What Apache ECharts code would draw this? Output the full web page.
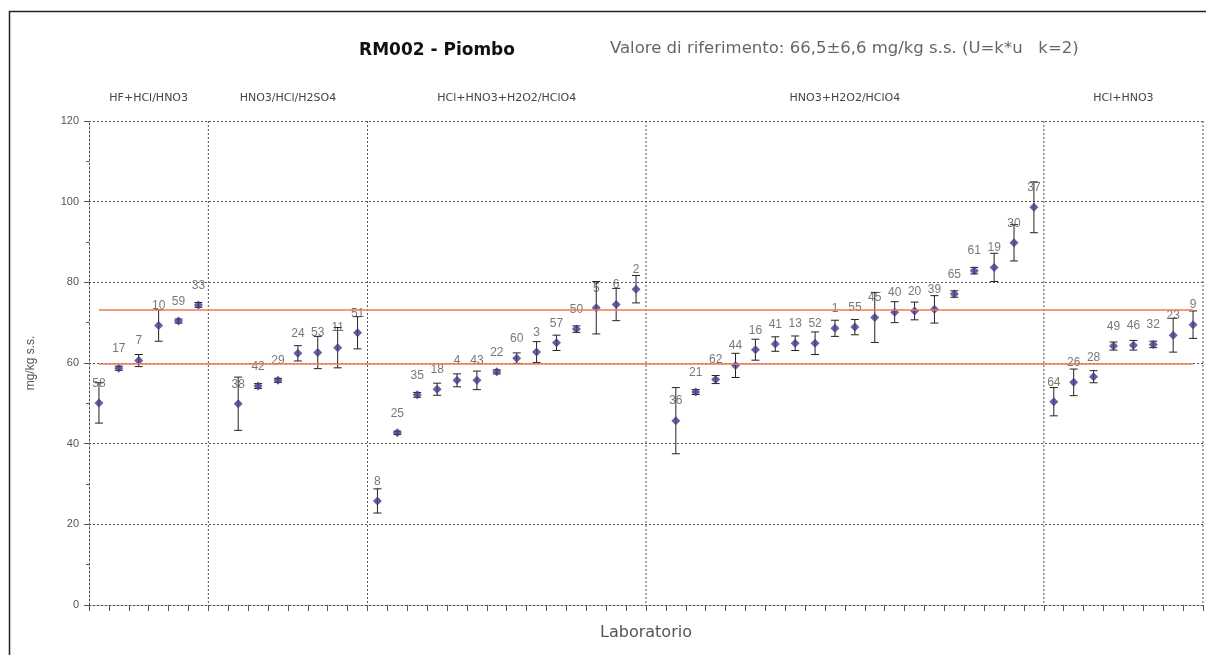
<!DOCTYPE html>
<html>
<head>
<meta charset="utf-8">
<script src="https://cdn.jsdelivr.net/npm/echarts@6/dist/echarts.min.js"></script>
<style>
  html, body { margin: 0; padding: 0; background: #fff; }
  #chart { width: 1206px; height: 655px; }
</style>
</head>
<body>
<div id="chart"></div>
<script>
// Digestion method groups and how many laboratory slots each occupies
const groupNames = ['HF+HCl/HNO3', 'HNO3/HCl/H2SO4', 'HCl+HNO3+H2O2/HClO4', 'HNO3+H2O2/HClO4', 'HCl+HNO3'];
const groupSizes = [6, 8, 14, 20, 8];

// Laboratory codes (empty = slot without a result)
const labs = [
  '58', '17', '7', '10', '59', '33',
  '', '38', '42', '29', '24', '53', '11', '51',
  '8', '25', '35', '18', '4', '43', '22', '60', '3', '57', '50', '5', '6', '2',
  '', '36', '21', '62', '44', '16', '41', '13', '52', '1', '55', '45', '40', '20', '39', '65', '61', '19', '30', '37',
  '64', '26', '28', '49', '46', '32', '23', '9'
];

// Reported lead results, mg/kg s.s.
const values = [
  50.1, 58.7, 60.6, 69.3, 70.4, 74.4,
  null, 49.9, 54.3, 55.7, 62.4, 62.6, 63.8, 67.5,
  25.8, 42.7, 52.1, 53.5, 55.7, 55.7, 57.8, 61.2, 62.7, 65.0, 68.4, 73.7, 74.5, 78.3,
  null, 45.7, 52.8, 55.9, 59.4, 63.3, 64.7, 64.9, 64.9, 68.6, 68.9, 71.3, 72.6, 72.9, 73.3, 77.1, 82.9, 83.7, 89.8, 98.6,
  50.4, 55.2, 56.6, 64.2, 64.4, 64.6, 66.9, 69.5
];

// Expanded uncertainty declared by each laboratory
const uncert = [
  5.0, 0.5, 1.5, 3.9, 0.5, 0.6,
  null, 6.6, 0.6, 0.5, 1.9, 4.0, 5.0, 4.0,
  3.0, 0.4, 0.6, 1.5, 1.6, 2.3, 0.5, 1.3, 2.6, 1.9, 0.8, 6.5, 4.0, 3.4,
  null, 8.2, 0.6, 1.0, 3.0, 2.6, 1.8, 1.8, 2.8, 2.0, 1.9, 6.2, 2.6, 2.2, 3.4, 0.8, 0.8, 3.5, 4.5, 6.3,
  3.5, 3.3, 1.5, 1.0, 1.2, 0.8, 4.2, 3.4
];

// Reference value and its expanded uncertainty
const refValue = 66.5;
const refU = 6.6;

const yTicks = [0, 20, 40, 60, 80, 100, 120];

const FONT = "'Liberation Sans', Arial, sans-serif";
const WIDE = "'DejaVu Sans', Arial, sans-serif";
const nSlots = labs.length;

// Build the category axis and point data
const categories = labs.map((l, i) => 'slot' + i);
const pointData = [];
const barData = [];
values.forEach((v, i) => {
  if (v === null) return;
  pointData.push({ value: [i, v], label: { formatter: labs[i] } });
  barData.push([i, v, uncert[i]]);
});

// Group boundaries and centres on a continuous slot axis
const bounds = [0];
groupSizes.forEach(s => bounds.push(bounds[bounds.length - 1] + s));
const groupCenters = groupNames.map((n, i) => [(bounds[i] + bounds[i + 1]) / 2, n]);

const chart = echarts.init(document.getElementById('chart'), null, { renderer: 'canvas' });

const dotted = { color: '#555', width: 1, type: [2, 2] };

chart.setOption({
  animation: false,
  backgroundColor: '#fff',
  textStyle: { fontFamily: FONT },
  grid: { left: 89, right: 3, top: 121, bottom: 50, containLabel: false },
  title: [
    {
      text: 'RM002 - Piombo',
      left: 432, top: 37, textAlign: 'center',
      textStyle: { fontSize: 17, fontWeight: 'bold', color: '#111', fontFamily: WIDE }
    },
    {
      text: 'Valore di riferimento: 66,5±6,6 mg/kg s.s. (U=k*u   k=2)',
      left: 605, top: 35,
      textStyle: { fontSize: 16.5, fontWeight: 'normal', color: '#666', fontFamily: WIDE }
    }
  ],
  graphic: [
    {
      type: 'rect', left: 7, top: 9, silent: true,
      shape: { width: 1220, height: 700 },
      style: { fill: 'none', stroke: '#222', lineWidth: 1.5 }
    }
  ],
  xAxis: [
    {
      type: 'category',
      data: categories,
      boundaryGap: true,
      name: 'Laboratorio',
      nameLocation: 'middle',
      nameGap: 20,
      nameTextStyle: { fontSize: 16, color: '#555', fontFamily: WIDE },
      axisLine: { lineStyle: dotted },
      axisTick: { show: true, interval: 0, length: 6, lineStyle: { color: '#555' } },
      axisLabel: { show: false },
      splitLine: { show: false }
    },
    {
      type: 'value',
      min: 0, max: nSlots,
      show: false
    }
  ],
  yAxis: {
    type: 'value',
    min: yTicks[0], max: yTicks[yTicks.length - 1], interval: 20,
    name: 'mg/kg s.s.',
    nameLocation: 'middle',
    nameGap: 52,
    nameTextStyle: { fontSize: 12, color: '#555' },
    axisLine: { show: true, lineStyle: dotted },
    axisTick: { show: true, length: 5, lineStyle: { color: '#555' } },
    minorTick: { show: true, splitNumber: 2, length: 3, lineStyle: { color: '#555' } },
    axisLabel: { fontSize: 11, color: '#555', margin: 10 },
    splitLine: { show: true, lineStyle: dotted }
  },
  series: [
    {
      // group separators, right border and method names
      type: 'custom',
      xAxisIndex: 1,
      silent: true,
      clip: false,
      z: 1,
      data: groupCenters.map((g, i) => [g[0], bounds[i + 1], g[1]]),
      renderItem: function (params, api) {
        const c = api.coord([api.value(0), 120]);
        const b = api.coord([api.value(1), 120]);
        const b0 = api.coord([api.value(1), 0]);
        return {
          type: 'group',
          children: [
            {
              type: 'line',
              shape: { x1: b[0], y1: b[1], x2: b0[0], y2: b0[1] },
              style: { stroke: '#555', lineWidth: 1, lineDash: [2, 2] }
            },
            {
              type: 'text',
              x: c[0], y: c[1] - 23,
              style: {
                text: groupNames[params.dataIndex],
                fill: '#444', fontSize: 11, fontFamily: WIDE,
                align: 'center', verticalAlign: 'middle'
              }
            }
          ]
        };
      }
    },
    {
      // reference interval lines
      type: 'line',
      data: [],
      silent: true,
      markLine: {
        silent: true,
        symbol: 'none',
        label: { show: false },
        lineStyle: { color: '#f27a52', width: 1.5, type: 'solid' },
        data: [
          [{ coord: [0, refValue - refU] }, { coord: [nSlots - 1, refValue - refU] }],
          [{ coord: [0, refValue + refU] }, { coord: [nSlots - 1, refValue + refU] }]
        ]
      }
    },
    {
      // uncertainty bars
      type: 'custom',
      silent: true,
      z: 3,
      data: barData,
      renderItem: function (params, api) {
        const i = api.value(0), v = api.value(1), u = api.value(2);
        const top = api.coord([i, v + u]);
        const bot = api.coord([i, v - u]);
        const w = 4;
        const st = { stroke: '#222', lineWidth: 1 };
        return {
          type: 'group',
          children: [
            { type: 'line', shape: { x1: top[0], y1: top[1], x2: bot[0], y2: bot[1] }, style: st },
            { type: 'line', shape: { x1: top[0] - w, y1: top[1], x2: top[0] + w, y2: top[1] }, style: st },
            { type: 'line', shape: { x1: bot[0] - w, y1: bot[1], x2: bot[0] + w, y2: bot[1] }, style: st }
          ]
        };
      }
    },
    {
      // laboratory results
      type: 'scatter',
      symbol: 'diamond',
      symbolSize: 9,
      z: 4,
      itemStyle: { color: '#3d3a86' },
      label: {
        show: true,
        position: 'top',
        distance: 9,
        fontSize: 12,
        color: '#555',
        fontFamily: FONT
      },
      data: pointData
    }
  ]
});
</script>
</body>
</html>
